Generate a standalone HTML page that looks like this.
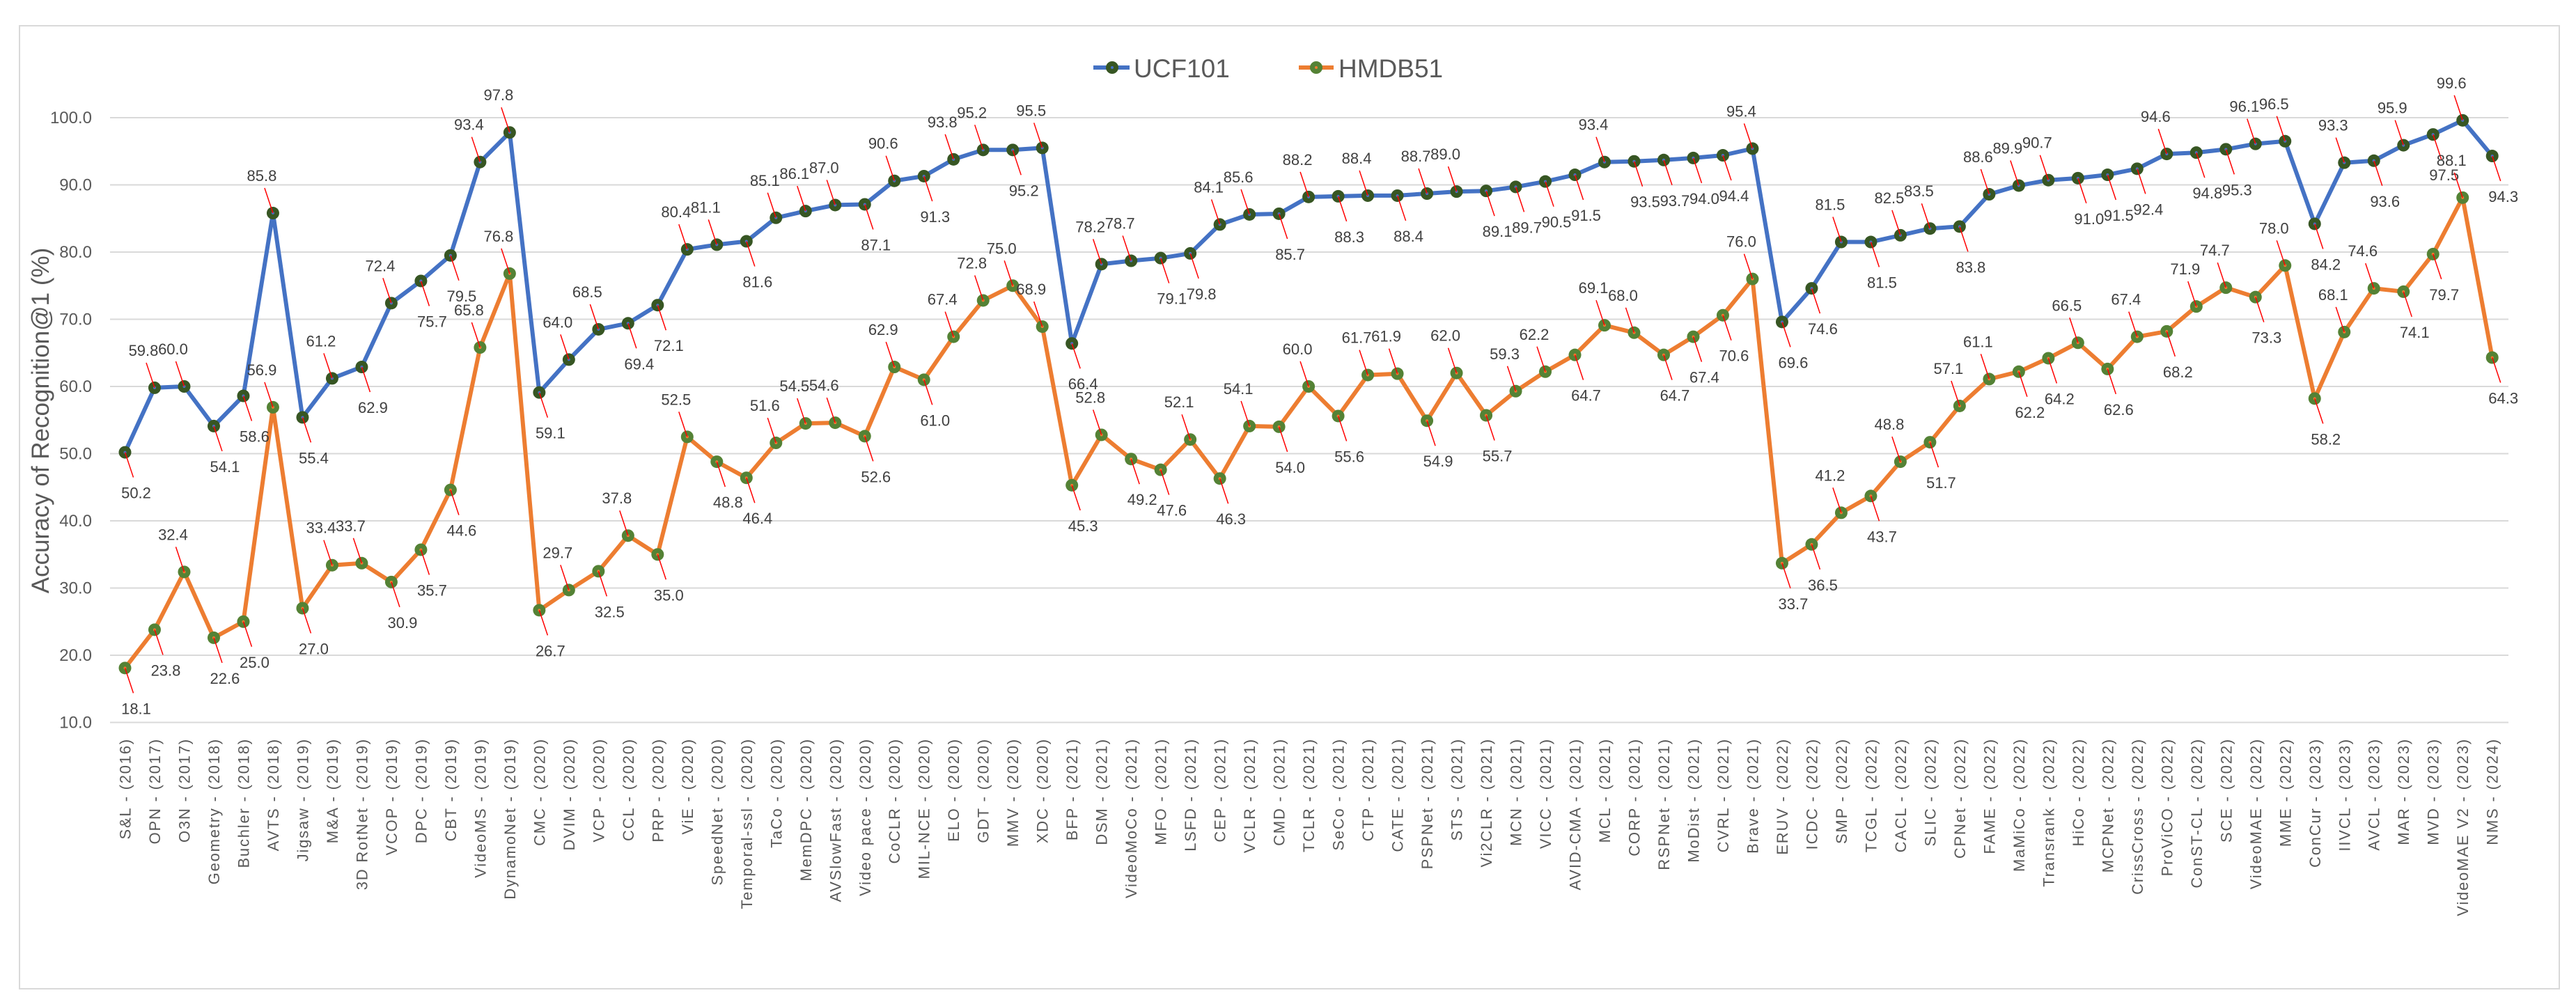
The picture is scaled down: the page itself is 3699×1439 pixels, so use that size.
<!DOCTYPE html>
<html><head><meta charset="utf-8">
<style>
html,body{margin:0;padding:0;background:#fff;}
svg{display:block;font-family:"Liberation Sans",sans-serif;}
</style></head>
<body>
<svg id="chart" xmlns="http://www.w3.org/2000/svg" width="3699" height="1439" viewBox="0 0 3699 1439">
<rect x="0" y="0" width="3699" height="1439" fill="#fff"/>
<rect x="28" y="37" width="3647" height="1383" fill="none" stroke="#d9d9d9" stroke-width="2"/>
<g id="grid"></g>
<g id="yticks"></g>
<g id="xticks"></g>
<text transform="translate(70,604) rotate(-90)" text-anchor="middle" font-size="35" fill="#595959">Accuracy of Recognition@1 (%)</text>
<g id="series"></g>
<g id="labels"></g>
<g>
  <g>
    <line x1="1570" y1="97" x2="1622" y2="97" stroke="#4472C4" stroke-width="6"/>
    <circle cx="1597" cy="97" r="9" fill="#375623"/>
    <circle cx="1597" cy="97" r="2" fill="#4472C4"/>
    <text x="1628" y="111" font-size="37" fill="#595959">UCF101</text>
  </g>
  <g>
    <line x1="1865" y1="97" x2="1915" y2="97" stroke="#ED7D31" stroke-width="6"/>
    <circle cx="1890" cy="97" r="9" fill="#548235"/>
    <circle cx="1890" cy="97" r="2" fill="#ED7D31"/>
    <text x="1922" y="111" font-size="37" fill="#595959">HMDB51</text>
  </g>
</g>
</svg>
<script>
const categories = ["S&L - (2016)","OPN - (2017)","O3N - (2017)","Geometry - (2018)","Buchler - (2018)","AVTS - (2018)","Jigsaw - (2019)","M&A - (2019)","3D RotNet - (2019)","VCOP - (2019)","DPC - (2019)","CBT - (2019)","VideoMS - (2019)","DynamoNet - (2019)","CMC - (2020)","DVIM - (2020)","VCP - (2020)","CCL - (2020)","PRP - (2020)","ViE - (2020)","SpeedNet - (2020)","Temporal-ssl - (2020)","TaCo - (2020)","MemDPC - (2020)","AVSlowFast - (2020)","Video pace - (2020)","CoCLR - (2020)","MIL-NCE - (2020)","ELO - (2020)","GDT - (2020)","MMV - (2020)","XDC - (2020)","BFP - (2021)","DSM - (2021)","VideoMoCo - (2021)","MFO - (2021)","LSFD - (2021)","CEP - (2021)","VCLR - (2021)","CMD - (2021)","TCLR - (2021)","SeCo - (2021)","CTP - (2021)","CATE - (2021)","PSPNet - (2021)","STS - (2021)","Vi2CLR - (2021)","MCN - (2021)","VICC - (2021)","AVID-CMA - (2021)","MCL - (2021)","CORP - (2021)","RSPNet - (2021)","MoDist - (2021)","CVRL - (2021)","Brave - (2021)","ERUV - (2022)","ICDC - (2022)","SMP - (2022)","TCGL - (2022)","CACL - (2022)","SLIC - (2022)","CPNet - (2022)","FAME - (2022)","MaMiCo - (2022)","Transrank - (2022)","HiCo - (2022)","MCPNet - (2022)","CrissCross - (2022)","ProViCO - (2022)","ConST-CL - (2022)","SCE - (2022)","VideoMAE - (2022)","MME - (2022)","ConCur - (2023)","IIVCL - (2023)","AVCL - (2023)","MAR - (2023)","MVD - (2023)","VideoMAE V2 - (2023)","NMS - (2024)"];
const ucf101 = [50.2,59.8,60.0,54.1,58.6,85.8,55.4,61.2,62.9,72.4,75.7,79.5,93.4,97.8,59.1,64.0,68.5,69.4,72.1,80.4,81.1,81.6,85.1,86.1,87.0,87.1,90.6,91.3,93.8,95.2,95.2,95.5,66.4,78.2,78.7,79.1,79.8,84.1,85.6,85.7,88.2,88.3,88.4,88.4,88.7,89.0,89.1,89.7,90.5,91.5,93.4,93.5,93.7,94.0,94.4,95.4,69.6,74.6,81.5,81.5,82.5,83.5,83.8,88.6,89.9,90.7,91.0,91.5,92.4,94.6,94.8,95.3,96.1,96.5,84.2,93.3,93.6,95.9,97.5,99.6,94.3];
const hmdb51 = [18.1,23.8,32.4,22.6,25.0,56.9,27.0,33.4,33.7,30.9,35.7,44.6,65.8,76.8,26.7,29.7,32.5,37.8,35.0,52.5,48.8,46.4,51.6,54.5,54.6,52.6,62.9,61.0,67.4,72.8,75.0,68.9,45.3,52.8,49.2,47.6,52.1,46.3,54.1,54.0,60.0,55.6,61.7,61.9,54.9,62.0,55.7,59.3,62.2,64.7,69.1,68.0,64.7,67.4,70.6,76.0,33.7,36.5,41.2,43.7,48.8,51.7,57.1,61.1,62.2,64.2,66.5,62.6,67.4,68.2,71.9,74.7,73.3,78.0,58.2,68.1,74.6,74.1,79.7,88.1,64.3];
const yTicks = [10,20,30,40,50,60,70,80,90,100];

const NS = "http://www.w3.org/2000/svg";
const X0 = 179.5, STEP = 42.49, YBASE = 1037.5, YSCALE = 9.65, PLOT_L = 158, PLOT_R = 3602;
function xAt(i){ return X0 + i*STEP; }
function yAt(v){ return YBASE - (v-10)*YSCALE; }
function mk(tag, attrs, parent){
  const e = document.createElementNS(NS, tag);
  for (const k in attrs) e.setAttribute(k, attrs[k]);
  parent.appendChild(e);
  return e;
}
const grid = document.getElementById('grid');
const yt = document.getElementById('yticks');
yTicks.forEach(v => {
  const l = mk('line', {x1:PLOT_L, x2:PLOT_R, y1:yAt(v), y2:yAt(v), stroke:'#d9d9d9', 'stroke-width':2}, grid);
  
  
  const t = mk('text', {x:132, y:yAt(v)+8, 'text-anchor':'end', 'font-size':24, fill:'#595959'}, yt);
  t.textContent = v.toFixed(1);
  
  
});
const xt = document.getElementById('xticks');
categories.forEach((c, i) => {
  const t = mk('text', {transform:`translate(${xAt(i)+8},1060) rotate(-90)`, 'text-anchor':'end', 'font-size':22, 'letter-spacing':'1.8', fill:'#595959'}, xt);
  t.textContent = c;
  
  
});
const sg = document.getElementById('series');
const lg = document.getElementById('labels');
function drawSeries(vals, color, markerFill, name){
  const pts = vals.map((v,i) => xAt(i).toFixed(1) + ',' + yAt(v).toFixed(1)).join(' ');
  const pl = mk('polyline', {points:pts, fill:'none', stroke:color, 'stroke-width':6, 'stroke-linejoin':'round'}, sg);
  
  
  vals.forEach((v,i) => {
    const cx = xAt(i), cy = yAt(v);
    const m = mk('circle', {cx:cx, cy:cy, r:9, fill:markerFill}, sg);
    
    
    mk('circle', {cx:cx, cy:cy, r:2, fill:color}, sg);
    const prev = i > 0 ? vals[i-1] : v, next = i < vals.length-1 ? vals[i+1] : v;
    const above = v >= (prev + next)/2;
    const side = above ? -1 : 1;
    const ex = cx + side*12, ey = above ? cy - 36 : cy + 36;
    const ld = mk('line', {x1:cx, y1:cy, x2:ex, y2:ey, stroke:'#ff0000', 'stroke-width':1.5}, lg);
    
    
    const t = mk('text', {x:cx + side*16, y: above ? cy - 46 : cy + 66, 'text-anchor':'middle', 'font-size':22, fill:'#404040'}, lg);
    t.textContent = v.toFixed(1);
    
    
  });
}
drawSeries(ucf101, '#4472C4', '#375623', 'ucf101');
drawSeries(hmdb51, '#ED7D31', '#548235', 'hmdb51');
</script>
</body></html>
